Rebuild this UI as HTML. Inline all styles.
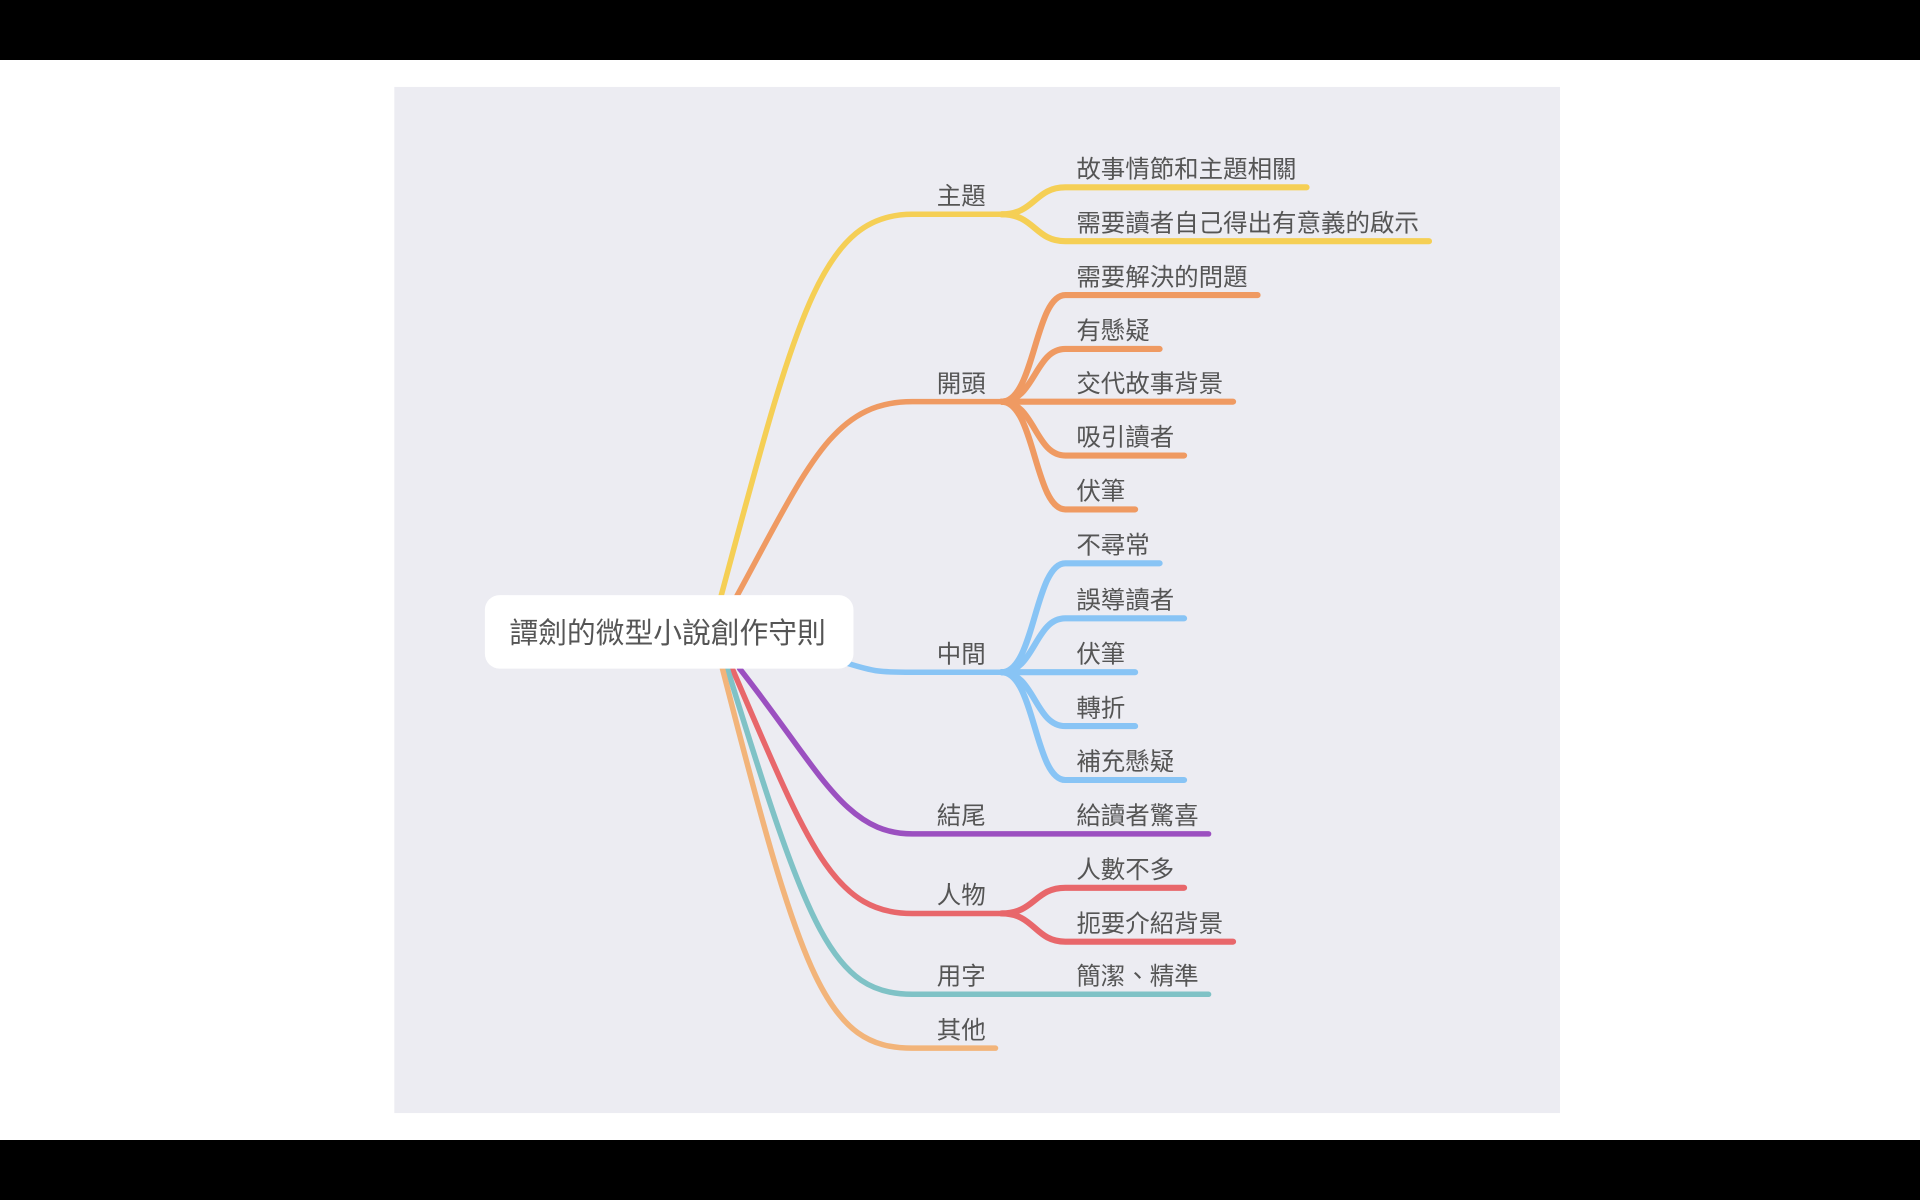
<!DOCTYPE html>
<html><head><meta charset="utf-8"><style>
html,body{margin:0;padding:0;background:#000;}
svg{display:block;}
text{font-family:"Liberation Sans","Noto Sans CJK TC",sans-serif;fill:#555;}
</style></head><body>
<svg width="1920" height="1200" viewBox="0 0 1568 980" preserveAspectRatio="none" xmlns="http://www.w3.org/2000/svg">
<rect x="0" y="0" width="1568" height="980" fill="#000"/>
<rect x="0" y="49" width="1568" height="882" fill="#fff"/>
<rect x="322" y="71" width="952" height="838" fill="#ececf2"/>
<g fill="none" stroke-linecap="round" stroke-width="4.5">
<path d="M588,490 C650,260 670,175 745,175 L818,175" stroke="#f5cf55"/>
<path d="M818,175 C845,175 845,153 870,153 L1067,153" stroke="#f5cf55" stroke-width="5"/>
<path d="M818,175 C845,175 845,197 870,197 L1167,197" stroke="#f5cf55" stroke-width="5"/>
<path d="M600,490 C660,380 680,328 745,328 L818,328" stroke="#ef9a62"/>
<g stroke="#ef9a62" stroke-width="5">
<path d="M818,328 C845,328 845,241 870,241 L1027,241"/>
<path d="M818,328 C845,328 845,285 870,285 L947,285"/>
<path d="M818,328 L1007,328"/>
<path d="M818,328 C845,328 845,372 870,372 L967,372"/>
<path d="M818,328 C845,328 845,416 870,416 L927,416"/>
</g>
<path d="M690,541 C715,549 720,549 745,549 L818,549" stroke="#88c4f5"/>
<g stroke="#88c4f5" stroke-width="5">
<path d="M818,549 C845,549 845,460 870,460 L947,460"/>
<path d="M818,549 C845,549 845,505 870,505 L967,505"/>
<path d="M818,549 L927,549"/>
<path d="M818,549 C845,549 845,593 870,593 L927,593"/>
<path d="M818,549 C845,549 845,637 870,637 L967,637"/>
</g>
<path d="M604,546 C670,630 690,681 745,681 L987,681" stroke="#9b50c0"/>
<path d="M598,546 C660,690 680,746 745,746 L818,746" stroke="#e8676b"/>
<path d="M818,746 C845,746 845,725 870,725 L967,725" stroke="#e8676b" stroke-width="5"/>
<path d="M818,746 C845,746 845,769 870,769 L1007,769" stroke="#e8676b" stroke-width="5"/>
<path d="M594,546 C660,760 680,812 745,812 L987,812" stroke="#7fc2c6"/>
<path d="M590,546 C655,800 675,856 745,856 L813,856" stroke="#f2b47a"/>
</g>
<rect x="396" y="486" width="301" height="60" rx="12" fill="#fff"/>
<text x="416" y="525" font-size="23.5">譚劍的微型小說創作守則</text>
<g font-size="20">
<text x="765" y="167">主題</text>
<text x="765" y="320">開頭</text>
<text x="765" y="541">中間</text>
<text x="765" y="673">結尾</text>
<text x="765" y="738">人物</text>
<text x="765" y="804">用字</text>
<text x="765" y="848">其他</text>
</g>
<g font-size="20">
<text x="879" y="145">故事情節和主題相關</text>
<text x="879" y="189">需要讀者自己得出有意義的啟示</text>
<text x="879" y="233">需要解決的問題</text>
<text x="879" y="277">有懸疑</text>
<text x="879" y="320">交代故事背景</text>
<text x="879" y="364">吸引讀者</text>
<text x="879" y="408">伏筆</text>
<text x="879" y="452">不尋常</text>
<text x="879" y="497">誤導讀者</text>
<text x="879" y="541">伏筆</text>
<text x="879" y="585">轉折</text>
<text x="879" y="629">補充懸疑</text>
<text x="879" y="673">給讀者驚喜</text>
<text x="879" y="717">人數不多</text>
<text x="879" y="761">扼要介紹背景</text>
<text x="879" y="804">簡潔、精準</text>
</g>
</svg>
</body></html>
